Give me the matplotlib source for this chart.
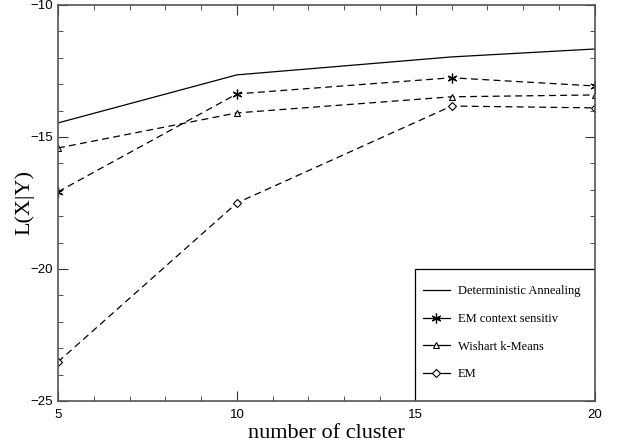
import matplotlib
matplotlib.use('Agg')
import matplotlib.pyplot as plt
from matplotlib.patches import Rectangle
from matplotlib.ticker import MultipleLocator

clusters = [5, 10, 16, 20]
det_annealing = [-14.47, -12.65, -11.97, -11.67]
em_context = [-17.08, -13.37, -12.76, -13.07]
wishart_kmeans = [-15.42, -14.09, -13.48, -13.41]
em_plain = [-23.52, -17.5, -13.83, -13.9]

labels = ['Deterministic Annealing', 'EM context sensitiv', 'Wishart k-Means', 'EM']

fig = plt.figure(figsize=(6.19, 4.46), dpi=100)
ax = fig.add_axes([0.0937, 0.101, 0.867, 0.888])

dash = (0, (5.5, 3.5))
ax.plot(clusters, det_annealing, color='black', lw=0.9, label=labels[0])
ax.plot(clusters, em_context, color='black', lw=0.9, ls=dash,
        marker=(6, 2, 0), ms=7, mew=0.9, label=labels[1])
ax.plot(clusters, wishart_kmeans, color='black', lw=0.9, ls=dash,
        marker='^', ms=5, mfc='white', mew=0.8, label=labels[2])
ax.plot(clusters, em_plain, color='black', lw=0.9, ls=dash,
        marker='D', ms=4, mfc='white', mew=0.8, label=labels[3])

ax.set_xlim(5, 20)
ax.set_ylim(-25, -10)
ax.xaxis.set_major_locator(MultipleLocator(5))
ax.xaxis.set_minor_locator(MultipleLocator(1))
ax.yaxis.set_major_locator(MultipleLocator(5))
ax.yaxis.set_minor_locator(MultipleLocator(1))
ax.tick_params(which='both', direction='in', top=True, right=True,
               labelsize=9.5, color='#333333')
ax.tick_params(which='major', length=7)
ax.tick_params(which='minor', length=3.5)
ax.tick_params(axis='x', pad=6)
for lab in ax.get_xticklabels() + ax.get_yticklabels():
    lab.set_family('Liberation Sans')
for s in ax.spines.values():
    s.set_color('#555555')
    s.set_linewidth(1.2)

ax.set_xlabel('number of cluster', family='Liberation Serif', fontsize=16, va='top')
ax.xaxis.set_label_coords(0.5, -0.058)
ax.set_ylabel('L(X|Y)', family='Liberation Serif', fontsize=16, va='center')
ax.yaxis.set_label_coords(-0.063, 0.5)

# legend box in the lower right corner (ticks stay visible on top of it)
ax.add_patch(Rectangle((0.665, 0), 0.335, 0.333, transform=ax.transAxes,
                       facecolor='white', edgecolor='black', lw=0.9, zorder=2.2))
leg = ax.legend(loc='upper left', bbox_to_anchor=(0.680, 0.292),
                prop={'family': 'Liberation Serif', 'size': 9},
                frameon=False, borderaxespad=0, borderpad=0, handlelength=2.16,
                labelspacing=1.25, handletextpad=0.64)
leg.set_zorder(2.3)
for h in leg.legend_handles:
    h.set_linestyle('-')

fig.savefig('out.png', dpi=100)
